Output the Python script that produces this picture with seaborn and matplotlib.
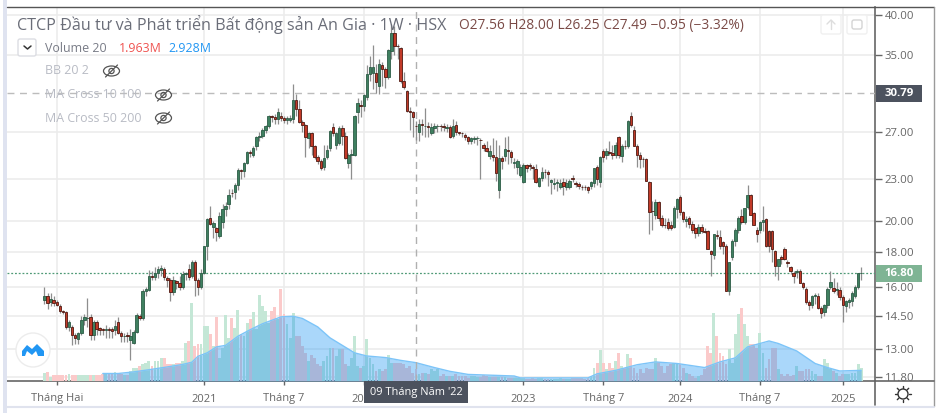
import matplotlib
matplotlib.use('Agg')
import matplotlib.pyplot as plt
from matplotlib.patches import Circle, Ellipse, FancyBboxPatch, Polygon
import numpy as np
import pandas as pd
import seaborn as sns

# weekly candles
opens = [15.3,15.55,15.2,15.3,15.2,15.0,14.75,14.7,14.0,14.0,13.6,13.45,13.7,14.3,14.4,14.45,13.6,14.2,13.95,13.9,
13.85,13.87,13.88,13.85,14.2,13.7,13.55,13.6,13.4,13.25,13.75,14.5,14.4,15.8,15.85,16.6,16.55,16.8,16.95,17.0,
16.5,16.4,15.75,16.35,16.2,16.0,16.7,17.0,16.6,17.4,16.4,16.0,16.75,18.35,20.2,19.6,19.5,19.0,19.9,20.8,
21.2,22.0,22.05,22.6,23.7,23.65,24.3,25.2,25.0,25.7,26.5,26.6,27.2,27.55,28.5,28.4,28.2,28.5,28.3,28.1,
28.1,28.2,30.0,29.1,27.9,27.6,26.4,26.9,25.7,24.8,24.5,23.95,24.8,25.6,27.4,25.8,26.0,27.35,26.6,24.3,
25.0,25.0,28.9,29.5,29.4,30.4,32.8,32.9,32.9,31.5,33.8,33.3,32.5,35.4,37.6,36.1,35.8,32.0,31.0,29.0,
28.9,27.56,26.95,27.7,27.5,27.5,26.9,27.3,27.5,27.55,27.55,27.3,27.4,26.6,27.6,26.95,26.9,26.7,26.5,26.2,
26.35,26.4,26.3,25.8,25.6,24.9,25.0,24.8,22.2,24.7,24.9,25.35,25.25,24.3,24.0,23.3,22.8,24.1,24.1,24.0,
23.8,22.5,23.1,23.6,23.55,22.8,22.65,22.7,22.4,22.8,22.45,22.4,23.1,22.75,22.65,22.45,22.4,22.4,22.5,22.7,
24.0,22.8,25.3,25.0,25.25,25.15,24.95,26.5,24.85,25.75,25.75,28.5,27.2,25.7,25.0,24.65,24.6,22.8,20.7,20.4,
21.3,20.2,19.75,19.9,19.7,19.6,20.8,21.7,20.6,20.0,20.2,19.8,19.5,19.2,19.6,19.3,19.3,18.05,17.8,19.05,
18.95,18.6,18.4,15.8,17.7,18.7,19.4,20.3,19.9,20.95,21.8,20.5,19.4,19.4,19.9,20.1,19.3,19.3,18.05,17.2,
17.7,18.2,17.4,17.1,16.75,16.85,16.9,16.2,15.9,15.2,15.05,15.55,15.55,14.9,14.7,15.05,16.0,15.95,15.85,15.85,
15.45,15.0,15.2,15.25,15.55,16.0,16.75]
highs = [16.0,15.7,15.7,15.5,15.3,15.1,14.8,14.75,14.3,14.1,13.7,13.75,14.5,14.6,15.4,14.6,14.3,14.3,14.0,13.95,
14.1,14.0,14.0,14.3,14.45,13.8,13.7,13.75,13.9,13.85,14.65,14.6,15.9,16.0,16.95,16.9,17.1,17.2,17.25,17.1,
16.6,16.5,16.6,16.4,16.6,16.9,16.85,17.3,17.5,17.5,16.5,17.0,18.4,20.2,21.0,20.0,19.6,20.6,21.2,21.3,
22.3,22.3,22.7,23.9,23.8,24.4,25.3,25.4,25.7,26.6,27.0,27.3,27.6,28.6,28.6,28.7,29.2,28.9,28.5,28.5,
28.6,31.7,30.7,30.0,28.1,27.7,27.0,27.0,25.8,25.0,24.6,25.8,25.8,27.2,27.8,27.0,27.5,27.6,27.0,25.1,
25.5,28.6,30.2,30.0,30.7,33.8,34.8,36.2,33.9,34.5,34.2,33.6,35.7,38.8,38.6,36.3,35.9,33.0,31.1,29.3,
29.0,28.0,28.2,28.2,29.2,27.9,27.8,27.8,27.7,27.7,27.8,27.7,27.6,28.2,28.0,27.0,27.0,26.9,26.6,26.5,
26.6,26.6,26.4,26.0,26.2,25.8,26.4,26.3,25.8,24.9,26.5,26.6,25.4,24.7,24.6,24.2,24.3,24.2,24.3,24.1,
24.2,23.2,24.0,23.8,23.7,23.0,23.1,23.0,23.0,23.1,23.0,23.0,23.3,22.9,22.8,22.6,22.6,22.5,22.9,23.9,
24.1,24.9,25.5,25.6,26.2,25.8,26.1,26.6,25.9,26.3,28.1,28.9,27.5,25.9,25.2,24.8,24.7,22.9,21.4,21.5,
21.4,20.4,20.2,20.2,20.0,21.0,21.6,21.8,20.7,20.3,20.3,20.0,19.6,19.8,19.8,19.5,19.4,18.1,19.1,19.4,
19.4,18.7,18.5,17.4,18.8,19.5,20.3,20.8,20.9,22.6,21.9,20.6,19.6,20.0,21.0,20.2,19.4,19.4,18.1,17.6,
17.8,18.3,17.5,17.2,16.9,17.0,17.0,16.3,16.0,15.3,15.6,15.7,15.7,15.0,15.1,16.0,16.9,16.5,16.3,16.0,
15.6,15.3,15.4,15.8,16.1,16.8,17.1]
lows = [15.1,14.85,15.0,15.0,15.0,14.65,14.6,13.9,13.8,13.15,13.2,13.2,13.6,14.1,14.0,13.4,13.4,13.6,13.6,13.6,
13.5,13.5,13.5,13.6,13.65,13.3,13.3,13.3,12.5,13.2,13.7,14.3,14.3,15.5,15.8,16.4,16.4,16.5,16.6,16.4,
16.0,15.25,15.6,15.9,15.85,15.9,16.4,16.4,16.5,15.5,15.6,15.9,16.7,17.5,19.7,18.9,18.7,18.9,19.5,20.3,
20.8,21.7,21.5,22.2,23.0,23.2,24.2,24.8,24.8,25.4,26.2,26.4,26.9,27.3,27.9,27.7,27.7,28.0,27.8,27.7,
27.9,27.8,28.5,27.8,27.0,24.8,25.6,25.0,24.6,24.2,23.7,23.7,24.6,25.3,26.6,25.5,25.8,25.8,24.6,23.9,
23.0,24.9,27.8,28.4,29.0,30.0,32.0,31.2,30.8,30.7,31.5,31.3,32.3,34.5,35.0,34.5,31.8,31.2,28.9,27.2,
26.5,26.25,26.2,26.7,26.5,26.5,26.7,26.9,27.0,27.1,27.1,27.0,26.4,26.4,26.7,26.7,26.5,26.3,25.9,25.9,
26.0,25.8,23.0,25.3,25.2,24.6,24.5,22.9,21.6,23.8,24.5,24.2,24.3,23.9,23.4,23.2,22.7,23.6,23.7,23.0,
22.7,22.4,22.9,23.1,22.5,21.9,22.3,22.1,22.3,21.8,22.2,22.3,22.8,22.4,22.3,22.2,22.2,22.0,22.3,22.4,
22.6,22.4,24.4,24.6,25.0,24.6,24.7,24.7,24.4,25.5,25.6,27.4,25.7,24.0,23.9,24.0,22.9,19.1,19.4,20.1,
20.0,19.6,19.5,19.4,19.4,19.5,20.2,20.4,19.9,19.6,19.5,19.2,18.9,19.0,19.2,19.2,18.2,16.6,17.6,18.8,
18.2,17.9,15.8,15.6,17.5,18.4,19.2,19.8,19.8,20.8,20.4,19.7,18.6,19.2,19.3,18.3,18.0,17.4,16.6,16.4,
17.3,17.5,17.1,16.7,16.2,16.5,16.2,15.9,15.1,14.8,14.9,15.1,14.85,14.4,14.5,14.9,15.9,15.7,15.6,15.3,
14.2,14.7,14.9,15.0,15.4,15.9,16.4]
closes = [15.5,15.15,15.35,15.15,15.05,14.75,14.7,14.0,14.2,13.6,13.5,13.7,14.3,14.45,14.42,13.6,14.2,13.9,13.85,13.85,
13.87,13.85,13.82,14.05,13.7,13.55,13.58,13.55,13.55,13.75,14.55,14.4,15.8,15.9,16.6,16.55,16.8,17.0,17.05,16.55,
16.4,15.75,16.4,16.2,16.0,16.7,16.75,16.55,17.4,16.4,16.0,16.75,18.35,20.1,19.8,19.85,19.25,20.3,20.8,21.0,
21.8,21.95,22.6,23.7,23.65,24.3,25.2,25.1,25.6,26.5,26.6,27.2,27.55,28.5,28.35,28.2,28.9,28.3,28.1,28.25,
28.25,30.0,29.1,27.9,27.6,26.5,26.9,25.7,24.8,24.5,23.9,24.7,25.4,27.05,26.9,26.9,27.35,26.6,24.7,25.0,
25.02,28.5,29.7,29.45,30.6,32.8,33.6,33.6,31.9,33.9,33.3,32.5,35.6,37.6,36.1,36.0,32.0,31.4,29.0,28.9,
28.4,27.49,27.75,27.6,27.55,27.45,27.4,27.5,27.55,27.5,27.4,27.45,26.5,27.5,27.0,26.9,26.85,26.55,26.2,26.4,
26.45,26.42,26.28,25.6,25.3,25.3,24.8,23.5,24.7,24.5,25.5,25.3,24.8,24.35,24.5,24.0,24.1,23.9,24.05,23.9,
22.8,23.1,23.6,23.55,23.45,22.95,22.75,22.8,22.75,22.5,22.7,22.85,23.0,22.65,22.5,22.42,22.38,22.2,22.8,23.9,
23.05,24.8,24.8,25.3,25.15,24.95,25.85,24.95,25.75,25.72,28.0,27.6,25.75,25.0,24.65,24.6,22.9,20.6,20.68,21.3,
20.2,19.75,19.72,19.55,19.5,20.9,21.5,20.6,20.1,20.1,19.8,19.4,19.2,19.6,19.3,19.28,18.2,17.9,19.1,19.0,
18.4,18.4,15.8,17.4,18.7,19.4,20.2,19.9,20.9,21.8,20.4,19.7,19.1,19.9,20.05,18.4,18.4,18.2,17.2,17.6,
17.6,17.6,17.35,16.9,16.6,16.9,16.2,16.0,15.2,15.05,15.55,15.57,14.9,14.65,15.05,15.9,16.3,15.8,15.88,15.45,
15.05,15.25,15.3,15.7,16.0,16.75,16.8]
volumes = [1.2,1.4,0.6,0.9,0.9,1.0,1.0,1.0,1.1,0.9,1.0,1.0,0.9,0.9,0.9,0.9,0.9,1.0,1.0,1.1,
1.2,1.2,1.3,1.4,1.2,1.1,1.0,1.0,1.6,2.1,2.1,2.4,2.7,2.9,3.2,2.4,3.2,3.2,3.7,3.7,
2.7,2.7,2.7,2.9,2.9,3.2,6.1,6.4,12.5,5.6,5.9,5.9,8.8,8.8,7.5,5.6,10.2,3.7,5.3,10.6,
6.9,10.0,8.5,11.4,7.5,7.2,9.3,9.9,11.1,8.3,13.7,12.0,11.2,9.3,11.2,11.8,9.9,14.7,10.7,9.1,
6.9,10.9,7.2,7.2,5.6,4.5,3.2,4.2,3.7,2.7,2.4,3.2,4.0,5.3,5.3,4.0,5.1,5.1,2.7,2.4,
3.7,7.2,2.4,2.1,2.4,6.7,3.7,2.7,1.6,1.9,1.6,1.9,4.2,2.9,2.9,2.9,2.9,2.7,2.1,2.4,
1.3,1.96,1.1,1.3,1.3,1.1,1.9,1.6,1.9,0.8,1.1,0.8,0.8,0.8,1.1,0.8,0.8,0.8,0.5,0.8,
0.8,0.7,0.7,1.0,0.8,0.7,0.6,0.7,0.6,0.6,0.6,0.5,0.5,0.5,0.4,0.4,0.4,0.3,0.3,0.4,
0.3,0.4,0.5,0.3,0.3,0.3,0.3,0.3,0.4,0.3,0.3,0.3,0.4,0.4,0.4,0.4,0.3,0.5,0.8,2.1,
2.9,5.0,2.8,1.9,2.9,2.1,3.2,4.5,2.4,2.1,4.3,3.7,2.1,1.3,1.9,1.3,2.1,1.9,1.9,3.7,
3.1,2.4,1.3,2.4,2.7,2.9,2.9,2.7,2.1,1.3,1.1,0.8,0.5,0.8,1.0,1.9,5.6,4.5,10.9,7.2,
4.5,4.0,2.7,5.1,2.9,7.5,10.7,11.6,9.1,7.2,5.9,5.9,5.3,7.6,4.5,2.1,3.5,5.3,5.3,1.9,
1.1,0.8,1.1,0.8,1.0,2.4,1.6,1.6,1.9,1.9,1.6,1.1,0.8,0.8,3.5,2.9,1.9,1.6,1.3,0.8,
1.1,1.1,1.1,1.3,1.3,2.7,2.1]

# volume 20 average, read at these weeks
ma_weeks = [19,24,29,34,40,45,48,50,53,56,59,63,67,71,77,81,84,89,93,96,101,105,111,116,121,127,132,138,
            153,155,177,180,186,193,199,206,215,220,225,229,236,239,245,251,255,259,266]
ma_values = [1.2,1.2,1.45,1.8,2.25,2.65,3.0,3.95,4.5,5.45,5.7,7.15,8.2,9.15,10.25,10.35,10.0,8.65,6.9,6.0,4.5,4.0,3.75,3.3,2.93,2.15,1.55,1.05,
             0.8,0.5,0.5,1.15,1.7,2.6,3.05,2.8,2.15,3.05,3.7,5.45,6.4,6.0,4.8,2.8,2.15,1.6,1.7]

price_ticks = [40, 35, 27, 23, 20, 18, 16, 14.5, 13, 11.8]
week_ticks = [4, 52, 78, 104, 156, 182, 207, 233, 260]
week_labels = ['Tháng Hai', '2021', 'Tháng 7', '2022', '2023', 'Tháng 7', '2024', 'Tháng 7', '2025']
crosshair_week = 121
crosshair_price = 30.79
last_price = 16.80

FONT = 'Open Sans'
UP, DOWN = '#3f8060', '#c23a28'
sns.set_theme(style='white')
plt.rcParams['font.family'] = FONT

df = pd.DataFrame({'week': np.arange(len(closes)), 'open': opens, 'high': highs, 'low': lows,
                   'close': closes, 'volume': volumes})
df['dir'] = np.where(df['close'] >= df['open'], 'up', 'down')
up = df[df['dir'] == 'up']
down = df[df['dir'] == 'down']

fig = plt.figure(figsize=(9.4, 4.13), dpi=100)
rect = [7/940, 1-381/413, (875-7)/940, (381-7)/413]
xlim = (-12.2, 270.5)
ylim = (11.66, 41.1)

base = fig.add_axes(rect, zorder=1)
base.set_yscale('log')
base.set_xlim(xlim)
base.set_ylim(ylim)
base.yaxis.tick_right()
base.set_yticks(price_ticks)
base.set_yticklabels(['%.2f' % p for p in price_ticks])
base.minorticks_off()
base.set_xticks(week_ticks)
base.set_xticklabels(week_labels)
base.grid(True, color='#ececec', lw=1.2)
base.tick_params(axis='y', right=True, length=5, width=1, color='#666666', labelsize=8.2, labelcolor='#666666', pad=2)
base.tick_params(axis='x', bottom=True, length=3, width=1, color='#666666', labelsize=8, labelcolor='#666666', pad=6)
for s in ['top', 'left']:
    base.spines[s].set_visible(False)
base.spines['right'].set_color('#666666')
base.spines['bottom'].set_color('#666666')
base.spines['right'].set_linewidth(1.2)
base.spines['bottom'].set_linewidth(1.2)

vol_ax = fig.add_axes(rect, zorder=2)
vol_ax.patch.set_visible(False)
sns.barplot(data=df, x='week', y='volume', hue='dir', palette={'up': '#c4e7d6', 'down': '#fbcaca'},
            native_scale=True, dodge=False, width=1.0, gap=0.08, saturation=1, legend=False, linewidth=0, ax=vol_ax)
vol_ax.fill_between(ma_weeks, ma_values, 0, color='#2196f3', alpha=0.38, lw=0)
sns.lineplot(x=ma_weeks, y=ma_values, color='#7cc4f8', lw=1, ax=vol_ax)
vol_ax.set_xlim(xlim)
vol_ax.set_ylim(0, 59.8)
vol_ax.axis('off')

ax = fig.add_axes(rect, zorder=3)
ax.patch.set_visible(False)
ax.set_yscale('log')
ax.set_xlim(xlim)
ax.set_ylim(ylim)
ax.axis('off')
ax.axhline(crosshair_price, color='#bcbcbc', lw=1, ls=(0, (5, 4)))
ax.axhline(last_price, color='#4f9a76', lw=0.9, ls=(0, (1.5, 1.5)))
ax.axvline(crosshair_week, color='#b0b0b0', lw=1, ls=(0, (5, 4)))
ax.vlines(df['week'], df['low'], df['high'], color='#8e8e8e', lw=0.9, zorder=3)
ax.bar(up['week'], up['close']-up['open'], bottom=up['open'], width=0.8, color=UP, edgecolor='#2c5c46', lw=0.6, zorder=4)
ax.bar(down['week'], down['close']-down['open'], bottom=down['open'], width=0.8, color=DOWN, edgecolor='#4e1a12', lw=0.6, zorder=4)

# everything around the chart, in pixels
over = fig.add_axes([0, 0, 1, 1], zorder=5)
over.patch.set_visible(False)
over.set_xlim(0, 940)
over.set_ylim(413, 0)
over.axis('off')
over.plot([7, 934], [7, 7], color='#555555', lw=1)
over.plot([934, 934], [7, 406], color='#9a9a9a', lw=1)
over.plot([875, 934], [381, 381], color='#666666', lw=1.2)
over.plot([875, 875], [381, 405], color='#666666', lw=1.2)
over.plot([7, 934], [406.5, 406.5], color='#e0e3ee', lw=1.5)
over.fill_between([3, 7], 0, 413, color='#dfe3f0', lw=0)

over.text(17, 25, 'CTCP Đầu tư và Phát triển Bất động sản An Gia · 1W · HSX', fontsize=11.6, color='#6a6d78', va='center')
over.text(459, 25, 'O27.56 H28.00 L26.25 C27.49 −0.95 (−3.32%)', fontsize=9.95, color='#7a4a46', va='center')
over.text(45, 48, 'Volume 20', fontsize=8.9, color='#787b86', va='center')
over.text(119, 48, '1.963M', fontsize=8.9, color='#ef5350', va='center')
over.text(168, 48, '2.928M', fontsize=8.9, color='#2196f3', va='center')
over.add_patch(FancyBboxPatch((18, 39), 18, 17, boxstyle='round,pad=0,rounding_size=2', fc='white', ec='#dcdde3', lw=1))
over.plot([24, 27.5, 31], [46, 49, 46], color='#333333', lw=1.1)
for label, tx, ey, ex in [('BB 20 2', 45, 71, 111.5), ('MA Cross 10 100', 45, 95, 163.5), ('MA Cross 50 200', 45, 118, 163.5)]:
    over.text(tx, ey, label, fontsize=8.9, color='#b8bbc4', va='center')
    over.add_patch(Ellipse((ex, ey), 16, 10, fc='none', ec='#555555', lw=0.9))
    over.add_patch(Circle((ex, ey), 2.6, fc='none', ec='#555555', lw=0.9))
    over.plot([ex-6, ex+6], [ey+6, ey-6], color='#555555', lw=0.9)

over.add_patch(FancyBboxPatch((821, 15), 20, 19, boxstyle='round,pad=0,rounding_size=2', fc='white', ec='#f0f0f0', lw=1))
over.add_patch(FancyBboxPatch((847, 15), 20, 19, boxstyle='round,pad=0,rounding_size=2', fc='white', ec='#f0f0f0', lw=1))
over.plot([831, 831], [29, 20], color='#dddddd', lw=1)
over.plot([827, 831, 835], [24, 20, 24], color='#dddddd', lw=1)
over.add_patch(FancyBboxPatch((852, 20), 10, 9, boxstyle='round,pad=0,rounding_size=2', fc='none', ec='#d4d4d4', lw=1))

# price and date flags
over.text(899, 93.5, '30.79', fontsize=8.2, color='white', weight='bold', ha='center', va='center', zorder=6)
over.fill_between([876, 922], 85, 102, color='#4c525e', lw=0, zorder=5)
over.text(899, 273.5, '16.80', fontsize=8.2, color='white', weight='bold', ha='center', va='center', zorder=6)
over.fill_between([876, 922], 265, 282, color='#7fb494', lw=0, zorder=5)
over.text(416, 393, "09 Tháng Năm '22", fontsize=7.9, color='white', ha='center', va='center', zorder=6)
over.fill_between([364, 468], 381, 403, color='#4c525e', lw=0, zorder=5)

# logo and settings sun
over.add_patch(Circle((33, 350), 17, fc='white', ec='#ececec', lw=1))
over.add_patch(Polygon([(22, 356), (22, 351), (27, 345), (32, 349), (37, 344), (44, 351), (44, 356), (38, 356), (36, 351), (32, 355), (27, 351), (25, 356)],
                       fc='#2196f3', ec='none'))
over.add_patch(Circle((903, 394), 5, fc='white', ec='#333333', lw=1))
for dx, dy in [(0, -8), (0, 8), (-8, 0), (8, 0), (-5.7, -5.7), (5.7, -5.7), (-5.7, 5.7), (5.7, 5.7)]:
    over.plot([903+dx*0.75, 903+dx], [394+dy*0.75, 394+dy], color='#333333', lw=1)

fig.savefig('out.png', dpi=100, facecolor='white')
